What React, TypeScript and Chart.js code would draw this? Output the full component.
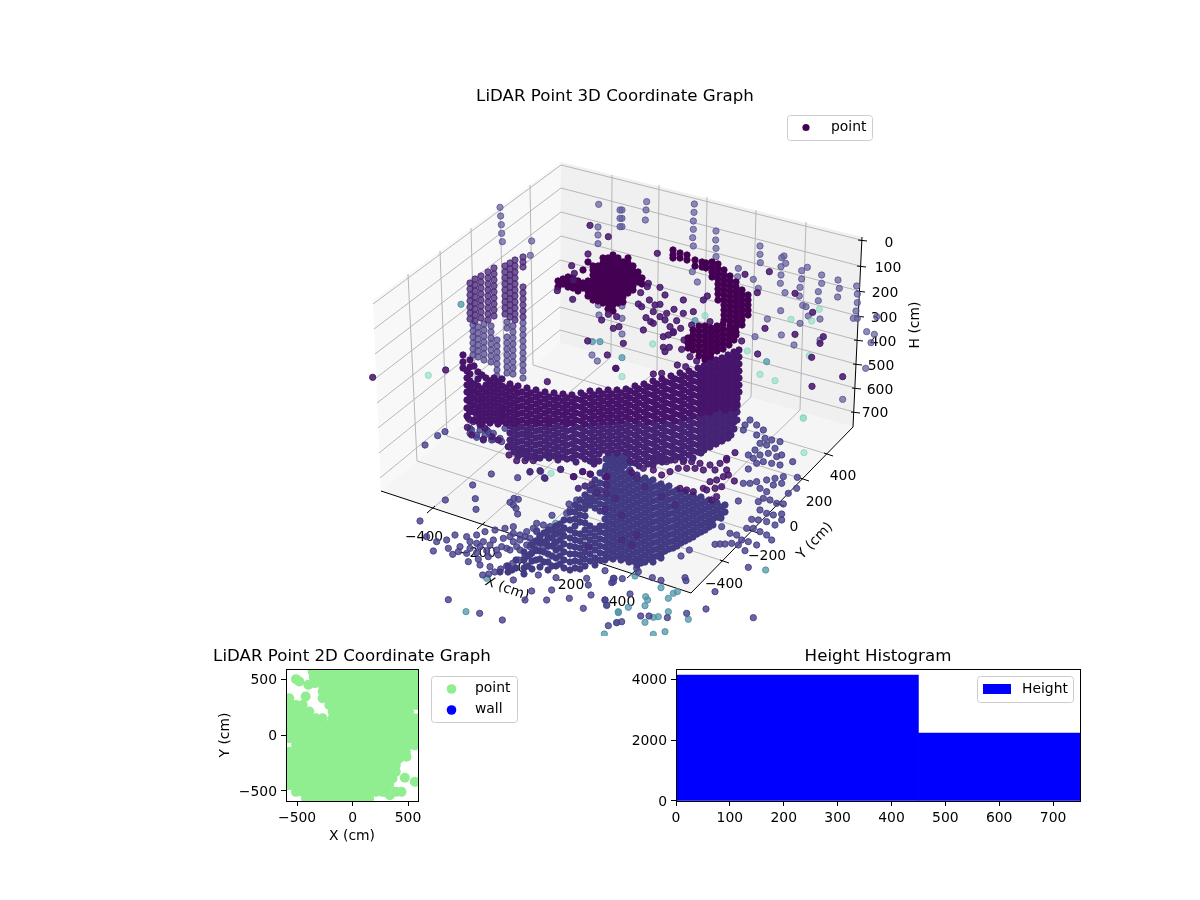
import React, { useEffect, useRef } from "react";
import { Chart, registerables } from "chart.js";
Chart.register(...registerables);

const FONT = "'DejaVu Sans'";
const TICK_PX = 13.9;
const TITLE_PX = 16.67;

/* ---------- 3D plot: points, in projected plot units ---------- */
// [column position, heights...]
const wallUpper = [
  [470,360,367,374,381,388,395,402,409],[478,372,379,386,393,400,407,414,421],[486,378,385,392,399,406,413,420],
  [494,378,385,392,399,406,413,420],[502,379,386,393,400,407,414,421],[510,384,391,398,405,412,419],
  [518,386,393,400,407,414,421],[527,388,395,402,409,416,423],[536,390,397,404,411,418,424],[545,392,399,406,413,420],
  [554,393,400,407,414,421],[563,394,401,408,415,422],[572,395,402,409,416,423],[581,393,400,407,414,421],
  [590,391,398,405,412,419],[599,391,398,405,412,419],[608,390,397,404,411,418],[617,390,397,404,411,418],
  [626,389,396,403,410,417],[635,386,393,400,407,414,421],[644,384,391,398,405,412,419],[653,381,388,395,402,409,416],
  [662,379,386,393,400,407,414,421],[671,376,383,390,397,404,411,418],[680,373,380,387,394,401,408,415],
  [689,371,378,385,392,399,406,413],[698,368,375,382,389,396,403,410],[704,366,373,380,387,394,401,408],
  [710,363,370,377,384,391,398,405,412],[716,360,367,374,381,388,395,402,409],[722,358,365,372,379,386,393,400,407],
  [728,355,362,369,376,383,390,397,404],[734,352,359,366,373,380,387,394,401,408],[739,350,357,364,371,378,385,392],
  // between the columns
  [463,355,362,368],[467,371,378,385,392,400,408,416],[474,366,384,391,398,405,412,420],[482,375,389,396,403,410,417,424],
  [490,381,388,395,402,409,416,423],[498,382,389,396,403,410,417,424],[506,388,395,402,409,416,423],[514,389,396,403,410,417,424],
  [522,392,399,406,413,420],[531,393,400,407,414,421],[540,395,402,409,416,423],[549,397,404,411,418,424],[558,398,405,412,419],
  [567,398,405,412,419,424],[576,399,406,413,420],[585,396,403,410,417,424],[594,395,402,409,416,423],[603,394,401,408,415,422],
  [612,394,401,408,415,422],[621,393,400,407,414,421],[630,391,398,405,412,419],[639,389,396,403,410,417],[648,387,394,401,408,415,422],
  [657,384,391,398,405,412,419],[666,382,389,396,403,410,417],[675,379,386,393,400,407,414,421],[684,376,383,390,397,404,411,418],
  [693,374,381,388,395,402,409,416],[701,371,378,385,392,399,406,413],[707,369,376,383,390,397,404,411],[713,366,373,380,387,394,401,408],
  [719,364,371,378,385,392,399,406],[725,361,368,375,382,389,396,403,410],[731,358,365,372,379,386,393,400,407],[737,355,362,369,376,383,390,397,404],
];
const wallLower = [
  [510,426,433,440,447],[518,428,435,442,449,456],
  [527,430,437,444,451,458],[536,431,438,445,452,458],[545,427,434,441,448,455],[554,428,435,442,449,456],
  [563,429,436,443,450,457],[572,430,437,444,451,458],[581,428,435,442,449,456],[590,426,433,440,447,454,461],
  [599,426,433,440,447,454,461],[608,425,432,439,446,453],[617,425,432,439,446,453],[626,424,431,438,445,452],
  [635,428,435,442,449,456,463],[644,426,433,440,447,454,461],[653,423,430,437,444,451,458,465],[662,428,435,442,449,456,462],
  [671,425,432,439,446,453,460],[680,422,429,436,443,450,457],[689,420,427,434,441,448,455],[698,417,424,431,438,445,452],
  [704,415,422,429,436,443,450],[710,419,426,433,440,447],[716,416,423,430,437,444],[722,414,421,428,435,441],
  [728,411,418,425,432,438],[734,415,422,429],[737,399,406,412,420],
  // between the columns
  [514,431,438,445,452],[522,427,434,441,448,454],[531,428,435,442,449,456],
  [540,430,437,444,451,458],[549,431,438,445,452,458],[558,426,433,440,447,454,460],[567,431,438,445,452,459],[576,427,434,441,448,455,462],
  [585,431,438,445,452,459],[594,430,437,444,451,458,464],[603,429,436,443,450],[612,429,436,443,450],[621,428,435,442,449],
  [630,426,433,440,447,454,461],[639,424,431,438,445,452,459,466],[648,429,436,443,450,457,464],[657,426,433,440,447,454,461],
  [666,424,431,438,445,452,459],[675,428,435,442,449,456],[684,425,432,439,446,453,460],[693,423,430,437,444,451,458],[701,420,427,434,441,448,453],
  [707,418,425,432,439,446],[713,415,422,429,436,443],[719,413,420,427,434,441],[725,417,424,431,438],[731,414,421,428,435],
];
const towerUpper = [
  [470,283,289,295,301,307,313,319],[475,279,285,291,297,303,309,315,321],[481,276,282,288,294,300,306,312,318],
  [488,272,278,284,290,296,302,308,314,320],[494,268,274,280,286,292,298,304,310,316],[505,266,272,278,284,290,296,302,308,314],
  [510,263,269,275,281,287,293,299,305,311,317],[515,260,266,272,278,284,290,296,302,308,314,320],[523,257,262,267,287,293,299,305,311,317],
];
const towerLower = [
  [473,325,331,337,343,349,355],[478,327,333,339,345,351,357],[484,324,330,336,342,348,354,360],[491,326,332,338,344,350,356,362],
  [497,340,346,352,358,364,370,376],[507,322,328,337,343,349,355,361,367,373],
  [513,326,332,338,344,350,356,362,368,374],[523,323,329,335,341,347,353,359,365,371,378],
];
const centreKnot = [
  [558,281,287],[563,279,284],[568,277,282,287],[573,278,283,288],[578,281,286,291],[583,283,288,270],[588,262,281,286,291,296],
  [593,266,270,275,280,285,290,295,300],[598,266,271,276,281,286,291,296,301],[603,258,263,268,273,278,283,288,293,298,303],
  [608,258,263,268,273,278,283,288,293,298,303,309],[613,255,260,265,270,275,280,285,290,295,300,305,311],
  [618,258,263,268,273,278,283,288,293,298,303],[623,262,267,272,277,282,287,292,297,302],[628,258,263,268,273,278,283,288,293],
  [633,266,271,276,281,286,290],[638,272,277,282],[642,278,284],
];
const arcKnot = [
  [673,250,255,258],[680,253,258],[687,255,260],[695,260,266],[702,262,267],[706,263,268],[712,262,267,272,277],
  [718,264,269,274,279,284,289,294,300],[724,270,275,280,285,290,295,300,305,310,315,320],
  [730,276,281,286,291,296,301,306,311,316,321,326,330],[736,282,287,292,297,302,307,312,317,322,327,332,335],
  [742,290,295,300,305,310,315,320,325],[748,295,300,305,310,315],
  [688,338,343,348],[693,330,335,340,345,350],[699,326,331,336,341,346,351,356],[705,326,331,336,341,346,351,356,360],
  [711,328,333,338,343,348,353,358],[717,326,331,336,341,346,351],[723,324,329,334,339,344,349],[729,330,335,340,345],[734,335,340],
];
const floorFan = [
  [500,572],[508,566,572],[516,560,568],[524,552,560,568,574],[532,545,553,561,569],[540,536,543,551,559,567],
  [548,530,538,546,554,562,570],[556,526,534,542,550,558,566],[564,520,528,536,544,552,560,568],
  [575,505,512,519,526,533,540,547,554,561,568],[585,495,502,509,516,523,530,537,545,552,559,566],
  [595,480,487,494,501,508,529,536,543,550,558,565],
  [605,470,477,484,491,498,505,512,519,526,533,540,547,554,560],[613,468,475,482,489,496,503,510,517,524,531,538,545,552,559],
  [621,470,477,484,491,498,505,512,519,526,533,540,547,554,560],[629,472,479,486,493,500,507,514,521,528,535,542,549,556,562],
  [637,475,482,489,496,503,510,517,524,531,538,545,552,559,565],[645,478,485,492,499,506,513,520,527,534,541,548,555,562],
  [653,480,487,494,501,508,515,522,529,536,543,550,557,562],[661,484,491,498,505,512,519,526,533,540,547,554,558],
  [669,486,493,500,507,514,521,528,535,542,549],[677,490,497,504,511,518,525,532,539,546],[685,492,499,506,513,520,527,534,541],
  [693,495,502,509,516,523,530,537],[701,497,504,511,518,525,532],[709,500,507,514,521,527],[717,503,510,517],[725,505,512],
  // between the columns
  [512,570],[528,556,566],[536,541,550,560],[544,533,542,552,562],[552,530,538,546,556,566],[560,524,532,540,548,556,564],[570,512,520,530,538,546,554,562,570],
  [580,500,508,515,522,534,541,548,555,562,569],[590,490,498,505,526,533,540,547,554,561],[600,473,483,490,497,504,511,526,532,539,546,553,560],
  [609,466,473,480,487,494,501,508,515,522,529,536,543,550,557],[617,472,479,486,493,500,507,514,521,528,535,542,549,556],
  [625,474,481,488,495,502,509,516,523,530,537,544,551,558],[633,477,484,491,498,505,512,519,526,533,540,547,554,561],
  [641,480,487,494,501,508,515,522,529,536,543,550,557,563],[649,482,489,496,503,510,517,524,531,538,545,552,559],
  [657,486,493,500,507,514,521,528,535,542,549,556],[665,488,495,502,509,516,523,530,537,544,551],[673,492,499,506,513,520,527,534,541,548],
  [681,494,501,508,515,522,529,536,543],[689,497,504,511,518,525,532,539],[697,499,506,513,520,527,534],[705,502,509,516,523,530],
  [713,505,512,519,525],[721,507,514,518],
  // neck joining the wall
  [606,459,466],[609,456,462],[612,459,464],[615,456,462,468],[618,459,466],[621,456,462,468],[624,459,466],[627,457,463],[630,463,470],
];

// positions read at 3x from crops of the picture
const backLavender = [
  110,155,108,180,106,210,36,180,36,205,36,230,253,162,252,187,250,213,250,238,248,263,250,288,318,243,317,270,318,295,318,320,
  450,288,450,313,451,338,385,355,383,380,430,388,522,318,515,323,527,340,513,350,513,375,511,400,575,362,592,352,575,387,570,412,
  568,438,635,375,635,400,625,425,625,452,684,390,688,415,683,441,740,408,742,432,742,458,738,483,730,505,742,505,800,500,770,545,
  793,553,783,578,767,655,698,748,247,365,262,396,445,415,525,428,578,466,588,470,512,482,595,498,570,520,514,555,435,560,552,585,
  630,570,630,507,472,507,36,468,36,505,36,552,
];
const leftLavender = [
  420,172,422,198,424,224,425,250,427,275,515,273,511,316,716,163,714,231,714,255,714,281,715,465,717,495,780,180,780,205,780,230,
  696,615,712,633,
];
const paleTeal = [543,508,605,513,628,478,598,617,450,673,495,692,580,803,412,603,36,680,285,497,128,582];
const midTeal = [470,635,36,623,255,512,380,697];
const leftTeal = [303,463,697,575,720,575];
const leftPale = [205,676];
const backDarkRight = [
  478,365,405,373,442,428,555,430,608,487,465,535,555,553,640,560,630,580,443,612,605,622,698,680,606,709,142,310,395,573,
  115,400,112,410,150,412,92,428,165,435,118,450,85,462,95,470,135,465,150,463,192,478,130,485,150,500,170,490,165,510,108,503,122,515,
  130,520,200,512,220,450,220,490,250,485,180,530,190,545,212,535,100,540,160,560,175,555,190,548,160,592,178,592,165,605,215,598,
  222,570,235,575,245,525,240,620,260,633,18,655,130,672,155,670,202,645,227,650,280,450,292,438,300,515,40,580,10,535,27,530,20,500,
];
const backDarkLeft = [
  38,682,257,660,562,695,635,347,643,370,640,390,592,422,638,448,745,260,690,226,683,573,742,615,767,655,684,312,725,510,745,493,
];
const floorCrop3 = [
  364,222,443,233,480,216,512,214,523,233,572,208,308,255,226,300,316,296,318,328,432,295,445,298,420,307,430,315,438,325,443,342,
  546,346,590,340,150,363,597,312,500,392,165,135,203,107,225,95,235,599,329,640,397,660,465,600,485,573,430,540,505,525,545,570,
  530,600,558,533,598,595,640,625,663,585,650,535,655,555,705,600,732,535,725,548,
  170,410,200,425,230,420,255,405,290,410,320,405,345,395,375,390,405,385,430,380,
  235,445,270,440,300,445,330,440,360,435,395,440,430,425,465,410,500,395,530,400,
  190,453,248,463,295,485,325,478,355,470,385,465,420,450,450,450,480,440,
  330,495,360,500,338,525,356,522,374,516,392,507,410,498,428,490,446,480,464,472,482,462,500,452,518,444,536,438,554,430,
  300,100,320,112,345,105,370,118,395,125,415,140,445,150,470,160,300,85,330,90,355,95,
  500,370,520,375,540,380,560,385,580,390,430,400,450,405,470,395,490,385,
  300,425,320,430,340,425,370,420,400,415,420,410,450,420,480,415,510,410,540,405,570,400,
  265,455,290,460,320,458,350,452,380,450,410,445,440,440,470,435,500,430,530,425,
  600,330,625,320,645,310,665,300,690,290,710,280,735,270,620,300,650,290,680,270,
];
const floorCrop4 = [
  410,35,435,75,450,60,470,75,490,90,430,90,400,85,470,105,495,115,515,120,540,125,480,130,500,135,525,145,465,150,445,165,460,175,
  480,165,505,160,530,170,545,165,490,185,515,190,540,195,578,185,470,190,445,207,592,232,430,250,450,250,470,245,500,240,525,235,
  550,230,520,255,545,250,480,265,500,275,590,265,565,280,490,295,510,300,530,310,550,312,475,305,480,330,500,340,520,345,545,342,
  455,358,475,360,500,365,525,375,545,360,440,385,460,385,480,395,500,405,515,420,390,400,410,405,425,420,445,425,470,435,345,433,
  360,432,375,432,395,430,415,435,435,452,365,380,445,502,268,450,243,468,415,303,
  345,575,318,627,460,653,260,640,255,533,258,542,183,541,157,533,67,536,40,545,40,535,15,512,110,505,115,515,90,582,15,600,20,615,
  65,665,50,668,25,677,122,648,147,648,202,653,
];
const lobeBlue = [60,215,80,225,90,250,65,270,80,285,110,270,130,280,150,295,100,300,125,300,145,250,165,265,60,240,85,205,95,175,150,210,120,240];
const lowerTeal = [137,590,143,600,135,617,205,595,220,580,232,575,183,563,85,622,55,638,205,635,135,667,265,658,175,650,160,652,195,695,160,703,105,528,110,483,497,510];
const lowerPale = [610,55,612,158];
const lowerLeftTeal = [288,635,350,535,557,370,710,617,745,635,740,668,703,702];
const lowerLeftPale = [543,220];
const wallBelow = [
  160,185,180,175,200,185,225,180,250,185,275,185,300,190,330,195,360,190,380,180,160,210,185,225,210,215,235,205,260,205,285,205,
  310,210,345,210,380,210,240,265,260,270,280,275,310,265,330,245,350,240,370,230,385,225,320,270,345,265,365,260,335,300,350,290,
  405,158,380,175,403,243,95,218,130,205,
];
const wallFoot = [
  300,35,295,55,310,65,292,82,330,75,345,85,305,105,340,118,365,110,385,120,415,140,440,150,417,165,440,182,465,182,490,182,
  395,45,420,60,448,80,475,100,610,230,638,215,660,222,710,230,
];
const fanSpecks = [
  320,110,320,135,290,158,320,160,345,175,315,208,365,225,410,115,435,140,485,170,525,195,365,300,395,315,410,285,265,320,
  222,110,248,95,272,103,235,145,255,138,275,133,90,95,135,115,182,88,120,92,
];

/* ---------- labels and axis readings of the 3D plot ---------- */
const xTickLabels = ["\u2212400", "\u2212200", "0", "200", "400"];
const yTickLabels = ["\u2212400", "\u2212200", "0", "200", "400"];
const hTickLabels = ["0", "100", "200", "300", "400", "500", "600", "700"];

/* ---------- 2D plot ---------- */
const c = [-570,-510,-450,-390,-330,-270,-210,-150,-90,-30,30,90,150,210,270,330,390,450,510,570];
const scanRows: number[][] = [
  [570,-360,-330,-270,-210,-150,-90,-30,30,90,150,210,270,330,390,450,510,570],
  [510,-270,-210,-150,-90,-30,30,90,150,210,270,330,390,450,510,570],
  [450,-270,-210,-150,-90,-30,30,90,150,210,270,330,390,450,510,570],
  [390,-270,-210,-150,-90,-30,30,90,150,210,270,330,390,450,510,570],
  [330,-570,-270,-210,-150,-90,-30,30,90,150,210,270,330,390,450,510,570],
  [270,-570,-510,-450,-210,-150,-90,-30,30,90,150,210,270,330,390,450,510,570],
  [210,-570,-510,-450,-390,-180,-150,-90,-30,30,90,150,210,270,330,390,450,510],
  [150,-570,-510,-450,-390,-330,-270,-180,-150,-90,-30,30,90,150,210,270,330,390,450,510,570],
  [90,...c],[30,...c],[-30,...c],
  [-90,-510,-450,-390,-330,-270,-210,-150,-90,-30,30,90,150,210,270,330,390,450,510],
  [-150,-570,-510,-450,-390,-330,-270,-210,-150,-90,-30,30,90,150,210,270,330,390,450,480],
  [-210,-570,-510,-450,-390,-330,-270,-210,-150,-90,-30,30,90,150,210,270,330,390,420],
  [-270,-570,-510,-450,-390,-330,-270,-210,-150,-90,-30,30,90,150,210,270,330,390],
  [-330,-570,-510,-450,-390,-330,-270,-210,-150,-90,-30,30,90,150,210,270,330,390],
  [-390,-570,-510,-450,-390,-330,-270,-210,-150,-90,-30,30,90,150,210,270,330,360],
  [-450,-570,-510,-450,-390,-330,-270,-210,-150,-90,-30,30,90,150,210,270,330],
  [-510,-510,-450,-390,-330,-270,-210,-150,-90,-30,30,90,150,210,270,300,390],
  [-570,-420,-390,-330,-270,-210,-150,-90,-30,30,90,150],
];
const scanExtras = [[-510,501],[-480,480],[-399,450],[-339,465],[-350,520],[-423,345],[561,-93],[486,-195],[471,-384],[561,-420],[441,-510],[336,-540]];
const wallPoints: { x: number; y: number }[] = [];
const scanTicks = [-500, 0, 500];

/* ---------- histogram ---------- */
const binEdges = [0, 450, 750];
const binCounts = [4130, 2230];
const histXTicks = [0, 100, 200, 300, 400, 500, 600, 700];
const histYTicks = [0, 2000, 4000];

/* ---------- helpers ---------- */
const cols = (list: number[][]) => list.flatMap(([x, ...ys]) => ys.map((y) => ({ x, y })));
const crop = (ox: number, oy: number, z: number[]) => {
  const out: { x: number; y: number }[] = [];
  for (let i = 0; i + 1 < z.length; i += 2) out.push({ x: ox + z[i] / 3, y: oy + z[i + 1] / 3 });
  return out;
};
const groupPts = (bg: string, bd: string, data: { x: number; y: number }[]) => ({
  data, backgroundColor: bg, borderColor: bd, borderWidth: 1, pointRadius: 3.15, pointHoverRadius: 3.15, clip: 0,
});
const lav = ["rgba(100,96,158,0.72)", "rgba(88,82,148,0.8)"];
const pale = ["rgba(140,220,195,0.6)", "rgba(125,212,188,0.7)"];
const teal = ["rgba(80,150,165,0.75)", "rgba(72,142,160,0.8)"];
const dark = ["rgb(68,1,84)", "rgb(68,1,84)"];
const deep = ["rgba(72,26,110,0.88)", "rgba(70,22,106,0.9)"];
const wallT = ["rgb(71,22,108)", "rgb(69,20,106)"];
const wallL = ["rgb(70,36,118)", "rgb(68,33,115)"];
const towerU = ["rgba(76,44,122,0.78)", "rgba(72,38,116,0.82)"];
const towerL = ["rgba(84,72,142,0.74)", "rgba(78,64,135,0.8)"];
const floor = ["rgb(66,60,132)", "rgb(65,57,130)"];
const floorLoose = ["rgba(72,68,140,0.82)", "rgba(68,62,134,0.88)"];
const speck = ["rgba(72,46,124,0.95)", "rgba(70,40,120,0.95)"];

// painter's order: far marks first
const painted = [
  groupPts(lav[0], lav[1], [...crop(610, 150, backLavender), ...crop(360, 150, leftLavender)]),
  groupPts(pale[0], pale[1], [...crop(610, 150, paleTeal), ...crop(360, 150, leftPale), ...crop(600, 400, lowerPale), ...crop(370, 400, lowerLeftPale)]),
  groupPts(teal[0], teal[1], [...crop(610, 150, midTeal), ...crop(360, 150, leftTeal), ...crop(600, 400, lowerTeal), ...crop(370, 400, lowerLeftTeal)]),
  groupPts(dark[0], dark[1], cols(centreKnot)),
  groupPts(deep[0], deep[1], [...crop(610, 150, backDarkRight), ...crop(360, 150, backDarkLeft)]),
  groupPts(dark[0], dark[1], cols(arcKnot)),
  groupPts(towerL[0], towerL[1], cols(towerLower)),
  groupPts(towerU[0], towerU[1], cols(towerUpper)),
  groupPts(floorLoose[0], floorLoose[1], [...crop(370, 400, floorCrop3), ...crop(600, 400, floorCrop4), ...crop(450, 340, lobeBlue)]),
  groupPts(floor[0], floor[1], cols(floorFan)),
  groupPts(speck[0], speck[1], crop(500, 440, fanSpecks)),
  groupPts(deep[0], deep[1], [...crop(600, 400, wallBelow), ...crop(370, 400, wallFoot)]),
  groupPts(wallL[0], wallL[1], cols(wallLower)),
  groupPts(wallT[0], wallT[1], cols(wallUpper)),
];

/* ---------- 3D frame readings, in the same projected plot units ---------- */
const TL = [373, 300], BL = [381, 491], BF = [691, 593], BR = [853, 427], TR = [862, 237], TB = [561, 162], BB = [560, 343];
const leftVerticals = [[408,274,417,461],[440,251,447,436],[471,228,476,412],[500,207,505,389],[530,185,533,365]];
const backVerticals = [[612,175,611,357],[659,185,657,370],[707,197,704,383],[756,210,751,397],[806,222,800,410]];
const floorXLines = [[611,357,432,509],[657,370,482,525],[704,383,532,541],[751,397,582,558],[800,410,632,574]];
const floorYLines = [[417,461,723,561],[447,436,752,531],[476,412,778,504],[505,389,803,479],[533,365,827,454]];
const heightLevels = [
  [373,304,561,165,861,240],[374,329,561,188,860,266],[375,354,561,212,859,291],[376,378,561,236,858,316],
  [377,403,560,260,857,340],[378,428,560,284,856,364],[379,453,560,307,855,388],[380,478,560,330,854,412],
];
const xLabelSpots = [[424,537],[477,553],[522,568],[571,585],[622,602]];
const yLabelSpots = [[724,584],[767,556],[794,527],[819,502],[843,476]];
const hLabelSpots = [[889,243],[888,268],[885,293],[884,318],[883,342],[881,366],[880,390],[875,413]];

function rrect(ctx: CanvasRenderingContext2D, x: number, y: number, w: number, h: number, r: number) {
  ctx.beginPath();
  ctx.roundRect(x, y, w, h, r);
  ctx.fillStyle = "rgba(255,255,255,0.8)";
  ctx.fill();
  ctx.strokeStyle = "#cccccc";
  ctx.lineWidth = 1;
  ctx.stroke();
}
function legendText(ctx: CanvasRenderingContext2D, s: string, x: number, y: number) {
  ctx.fillStyle = "#000";
  ctx.font = `${TICK_PX}px ${FONT}`;
  ctx.textAlign = "left";
  ctx.textBaseline = "middle";
  ctx.fillText(s, x, y);
}
function dot(ctx: CanvasRenderingContext2D, x: number, y: number, r: number, col: string) {
  ctx.beginPath();
  ctx.arc(x, y, r, 0, Math.PI * 2);
  ctx.fillStyle = col;
  ctx.fill();
}

const framePlugin = {
  id: "frame3d",
  beforeDatasetsDraw(chart: any) {
    const { ctx } = chart;
    const px = (p: number[]) => [chart.scales.x.getPixelForValue(p[0]), chart.scales.y.getPixelForValue(p[1])];
    const poly = (pts: number[][], fill: string) => {
      ctx.beginPath();
      pts.map(px).forEach((p: number[], i: number) => (i ? ctx.lineTo(p[0], p[1]) : ctx.moveTo(p[0], p[1])));
      ctx.closePath();
      ctx.fillStyle = fill;
      ctx.fill();
    };
    const seg = (a: number, b: number, c2: number, d: number, col: string, w = 1) => {
      const p = px([a, b]), q = px([c2, d]);
      ctx.beginPath();
      ctx.moveTo(p[0], p[1]);
      ctx.lineTo(q[0], q[1]);
      ctx.strokeStyle = col;
      ctx.lineWidth = w;
      ctx.stroke();
    };
    const label = (s: string, p: number[], rot = 0) => {
      const q = px(p);
      ctx.save();
      ctx.translate(q[0], q[1]);
      ctx.rotate(rot);
      ctx.fillStyle = "#000";
      ctx.font = `${TICK_PX}px ${FONT}`;
      ctx.textAlign = "center";
      ctx.textBaseline = "middle";
      ctx.fillText(s, 0, 0);
      ctx.restore();
    };
    ctx.save();
    poly([TL, TB, BB, BL], "#f8f8f8");
    poly([TB, TR, BR, BB], "#f0f0f0");
    poly([BL, BB, BR, BF], "#f5f5f5");
    const grid = "#b0b0b0";
    [...leftVerticals, ...backVerticals, ...floorXLines, ...floorYLines].forEach((l) => seg(l[0], l[1], l[2], l[3], grid, 0.9));
    heightLevels.forEach((l) => {
      seg(l[0], l[1], l[2], l[3], grid, 0.9);
      seg(l[2], l[3], l[4], l[5], grid, 0.9);
    });
    seg(BL[0], BL[1], BF[0], BF[1], "#000");
    seg(BF[0], BF[1], BR[0], BR[1], "#000");
    seg(BR[0], BR[1], TR[0], TR[1], "#000");
    floorXLines.forEach((l) => seg(l[2] + 3, l[3] - 3, l[2] - 5, l[3] + 4, "#000"));
    floorYLines.forEach((l) => seg(l[2] - 3, l[3] - 1, l[2] + 6, l[3] + 2, "#000"));
    heightLevels.forEach((l) => seg(l[4] - 3, l[5], l[4] + 6, l[5] + 1, "#000"));
    xTickLabels.forEach((s, i) => label(s, xLabelSpots[i]));
    yTickLabels.forEach((s, i) => label(s, yLabelSpots[i]));
    hTickLabels.forEach((s, i) => label(s, hLabelSpots[i]));
    label("X (cm)", [507, 589], (20 * Math.PI) / 180);
    label("Y (cm)", [815, 541], (-46 * Math.PI) / 180);
    label("H (cm)", [915, 325], -Math.PI / 2);
    ctx.restore();
  },
  afterDraw(chart: any) {
    const { ctx } = chart;
    const ox = 30;
    ctx.save();
    rrect(ctx, 787.5 - ox, 115.5, 85, 25, 3);
    dot(ctx, 806 - ox, 127.5, 3.6, "#440154");
    legendText(ctx, "point", 831 - ox, 127.5);
    ctx.restore();
  },
};

const spinePlugin = {
  id: "spines",
  afterDraw(chart: any) {
    const { ctx, chartArea: a } = chart;
    ctx.save();
    ctx.strokeStyle = "#000";
    ctx.lineWidth = 1;
    ctx.strokeRect(Math.round(a.left) + 0.5, Math.round(a.top) + 0.5, a.right - a.left, a.bottom - a.top);
    ctx.restore();
  },
};
const scanLegend = {
  id: "scanLegend",
  afterDraw(chart: any) {
    const { ctx } = chart;
    const ox = 200, oy = 640;
    ctx.save();
    rrect(ctx, 431.5 - ox, 676.5 - oy, 86, 46, 3);
    dot(ctx, 451.5 - ox, 689 - oy, 4.8, "lightgreen");
    legendText(ctx, "point", 475 - ox, 688 - oy);
    dot(ctx, 451.5 - ox, 710 - oy, 4.8, "blue");
    legendText(ctx, "wall", 475 - ox, 709 - oy);
    ctx.restore();
  },
};
const histLegend = {
  id: "histLegend",
  afterDraw(chart: any) {
    const { ctx } = chart;
    const ox = 620, oy = 640;
    ctx.save();
    rrect(ctx, 977.5 - ox, 676.5 - oy, 96, 26, 3);
    ctx.fillStyle = "blue";
    ctx.fillRect(983 - ox, 684 - oy, 28, 10);
    legendText(ctx, "Height", 1022 - ox, 689 - oy);
    ctx.restore();
  },
};

const tickFont = { family: FONT, size: TICK_PX };
const titleFont = { family: FONT, size: TITLE_PX, weight: "normal" as const, lineHeight: 1.2 };
const axis = (values: number[], extra: any, labelOffset = 0) => ({
  type: "linear",
  grid: { drawOnChartArea: false, color: "#000", tickColor: "#000", tickLength: 5, offset: false },
  border: { display: false },
  afterBuildTicks: (s: any) => { s.ticks = values.map((value) => ({ value })); },
  ticks: {
    color: "#000", font: tickFont, padding: 4, maxRotation: 0, autoSkip: false, labelOffset,
    callback: (v: number) => String(v).replace("-", "\u2212"),
  },
  ...extra,
});

function ChartBox({ left, top, width, height, config }: any) {
  const ref = useRef<HTMLCanvasElement>(null);
  useEffect(() => {
    const chart = new Chart(ref.current!, config);
    return () => chart.destroy();
  }, [config]);
  return (
    <canvas ref={ref} width={width} height={height}
      style={{ position: "absolute", left, top, width, height, display: "block" }} />
  );
}

const mainConfig: any = {
  type: "scatter",
  data: { datasets: [...painted].reverse() },
  options: {
    responsive: false, animation: false, devicePixelRatio: 1,
    layout: { padding: 0, autoPadding: false },
    scales: {
      x: { type: "linear", min: 30, max: 1200, display: false },
      y: { type: "linear", min: 107, max: 636, reverse: true, display: false },
    },
    plugins: {
      legend: { display: false }, tooltip: { enabled: false },
      title: {
        display: true, text: "LiDAR Point 3D Coordinate Graph", color: "#000", fullSize: false,
        font: titleFont, padding: { top: 87, bottom: 0 },
      },
    },
  },
  plugins: [framePlugin],
};

const scanPoints = [
  ...scanRows.flatMap(([y, ...xs]) => xs.map((x) => ({ x, y }))),
  ...scanExtras.map(([x, y]) => ({ x, y })),
];
const scanConfig: any = {
  type: "scatter",
  data: {
    datasets: [
      { label: "wall", data: wallPoints, backgroundColor: "blue", pointRadius: 5 },
      { label: "point", data: scanPoints, backgroundColor: "lightgreen", borderColor: "lightgreen", borderWidth: 0, pointRadius: 5, clip: 0 },
    ],
  },
  options: {
    responsive: false, animation: false, devicePixelRatio: 1,
    layout: { padding: { left: 12, right: 48, top: 0, bottom: 0 }, autoPadding: false },
    scales: {
      x: axis(scanTicks, {
        min: -600, max: 590,
        afterFit: (s: any) => { s.height = 54; },
        title: { display: true, text: "X (cm)", color: "#000", font: { ...tickFont, lineHeight: 1.2 }, padding: { top: 0, bottom: 10 } },
      }),
      y: axis(scanTicks, {
        min: -592, max: 592,
        afterFit: (s: any) => { s.width = 74; },
        title: { display: true, text: "Y (cm)", color: "#000", font: { ...tickFont, lineHeight: 1.2 }, padding: { top: 5, bottom: 5 } },
      }, 1.5),
      // empty box on the right so that the title, which spans the full width, stays centred on the axes
      spacer: {
        type: "linear", position: "right", min: 0, max: 1,
        grid: { display: false }, border: { display: false }, ticks: { display: false },
        afterFit: (s: any) => { s.width = 74; },
      },
    },
    plugins: {
      legend: { display: false }, tooltip: { enabled: false },
      title: {
        display: true, text: "LiDAR Point 2D Coordinate Graph", color: "#000", fullSize: true,
        font: titleFont, padding: { top: 7, bottom: 2 },
      },
    },
  },
  plugins: [spinePlugin, scanLegend],
};

const histPlotWidth = 404;
const histMax = 750;
const histConfig: any = {
  type: "bar",
  data: {
    datasets: binCounts.map((count, i) => ({
      label: "Height",
      data: [{ x: (binEdges[i] + binEdges[i + 1]) / 2, y: count }],
      backgroundColor: "blue",
      grouped: false,
      barThickness: ((binEdges[i + 1] - binEdges[i]) / histMax) * histPlotWidth,
    })),
  },
  options: {
    responsive: false, animation: false, devicePixelRatio: 1,
    layout: { padding: { left: 0, right: 20, top: 0, bottom: 0 }, autoPadding: false },
    scales: {
      x: axis(histXTicks, { min: 0, max: histMax, offset: false, afterFit: (s: any) => { s.height = 54; } }),
      y: axis(histYTicks, { min: 0, max: 4328, afterFit: (s: any) => { s.width = 56; } }, 1.5),
    },
    plugins: {
      legend: { display: false }, tooltip: { enabled: false },
      title: {
        display: true, text: "Height Histogram", color: "#000", fullSize: false,
        font: titleFont, padding: { top: 7, bottom: 2 },
      },
    },
  },
  plugins: [spinePlugin, histLegend],
};

export default function App() {
  return (
    <div style={{ position: "absolute", left: 0, top: 0, width: 1200, height: 900, background: "#fff", overflow: "hidden" }}>
      <ChartBox left={30} top={0} width={1170} height={636} config={mainConfig} />
      <ChartBox left={200} top={640} width={340} height={215} config={scanConfig} />
      <ChartBox left={620} top={640} width={480} height={215} config={histConfig} />
    </div>
  );
}
